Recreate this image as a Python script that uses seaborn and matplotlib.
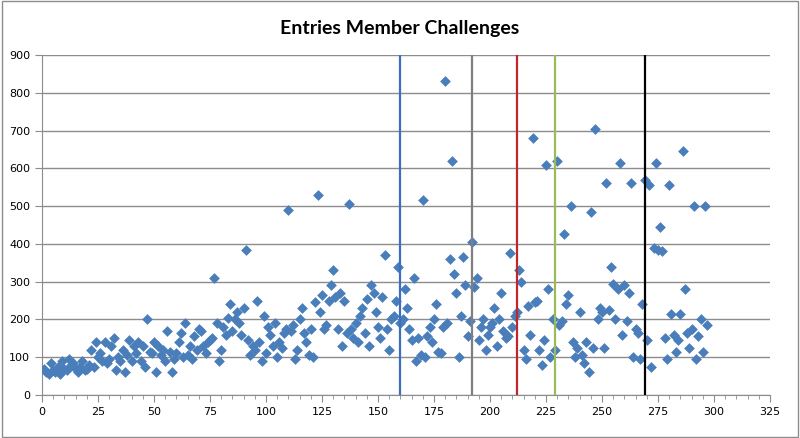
import matplotlib
matplotlib.use("Agg")
import matplotlib.pyplot as plt
import seaborn as sns
import pandas as pd
import numpy as np
from matplotlib.ticker import MultipleLocator
from matplotlib.patches import Rectangle

y_values = [
70,60,55,85,65,60,75,55,90,70,65,95,80,85,70,60,75,90,65,70,80,120,75,140,100,
110,90,140,85,95,130,150,65,100,90,120,60,105,145,90,130,110,140,90,130,75,200,115,110,140,
60,130,105,120,90,170,115,60,95,110,140,165,100,190,105,130,95,155,120,175,170,130,110,140,145,
150,310,190,90,120,180,160,205,240,170,200,220,190,160,230,385,145,105,130,120,250,140,90,210,110,
180,160,130,190,100,140,125,165,175,490,170,185,95,120,200,230,165,140,105,175,100,245,530,220,265,
175,185,250,290,330,260,175,270,130,250,165,505,175,150,190,140,210,230,165,255,130,290,270,220,180,
150,260,370,175,120,200,210,250,340,190,200,280,230,175,145,310,90,150,105,515,100,155,180,140,200,
240,115,110,180,830,190,360,620,320,270,100,210,365,290,155,195,405,285,310,145,180,200,120,160,180,
190,230,130,200,270,170,150,155,375,180,210,220,330,300,120,95,235,160,680,245,250,120,80,145,610,
280,100,200,120,620,185,195,425,240,265,500,140,100,125,220,105,85,140,60,485,125,705,200,230,220,
125,560,225,340,295,200,280,615,160,290,195,270,560,100,175,165,95,240,570,145,555,75,390,615,385,
445,380,150,95,555,215,160,115,145,215,645,280,165,125,175,500,95,155,200,115,500,185,
]
x_values = list(range(1, len(y_values) + 1))
vline_positions = [160, 192, 212, 229, 269]
vline_colors = ["#3a6fc4", "#7f7f7f", "#c0272d", "#9bbb59", "#000000"]

df = pd.DataFrame({"x": x_values, "y": y_values})

fig = plt.figure(figsize=(8, 4.38), dpi=100)
ax = fig.add_axes([42/800, 43/438, 728/800, 340/438])
sns.scatterplot(data=df, x="x", y="y", ax=ax, marker="D", s=30,
                color="#4a7ebb", edgecolor="#4a7ebb", linewidth=0, zorder=3)
for xv, c in zip(vline_positions, vline_colors):
    ax.axvline(xv, color=c, lw=1.6, zorder=4)

ax.set_xlim(0, 325)
ax.set_ylim(0, 900)
ax.xaxis.set_major_locator(MultipleLocator(25))
ax.xaxis.set_minor_locator(MultipleLocator(5))
ax.yaxis.set_major_locator(MultipleLocator(100))
ax.grid(axis="y", color="#8c8c8c", lw=1)
ax.set_axisbelow(True)
for s in ["top", "right"]:
    ax.spines[s].set_visible(False)
for s in ["left", "bottom"]:
    ax.spines[s].set_color("#8c8c8c")
ax.tick_params(axis="both", which="both", color="#8c8c8c", labelsize=8, direction="out")
ax.tick_params(which="major", length=5)
ax.tick_params(which="minor", length=3)
ax.set_xlabel("")
ax.set_ylabel("")
fig.suptitle("Entries Member Challenges", y=0.955, fontsize=14, fontweight="bold", family="Lato")
fig.patches.append(Rectangle((0.002, 0.003), 0.996, 0.994, transform=fig.transFigure,
                             fill=False, edgecolor="#8c8c8c", lw=1))
fig.savefig("out.png", dpi=100)
